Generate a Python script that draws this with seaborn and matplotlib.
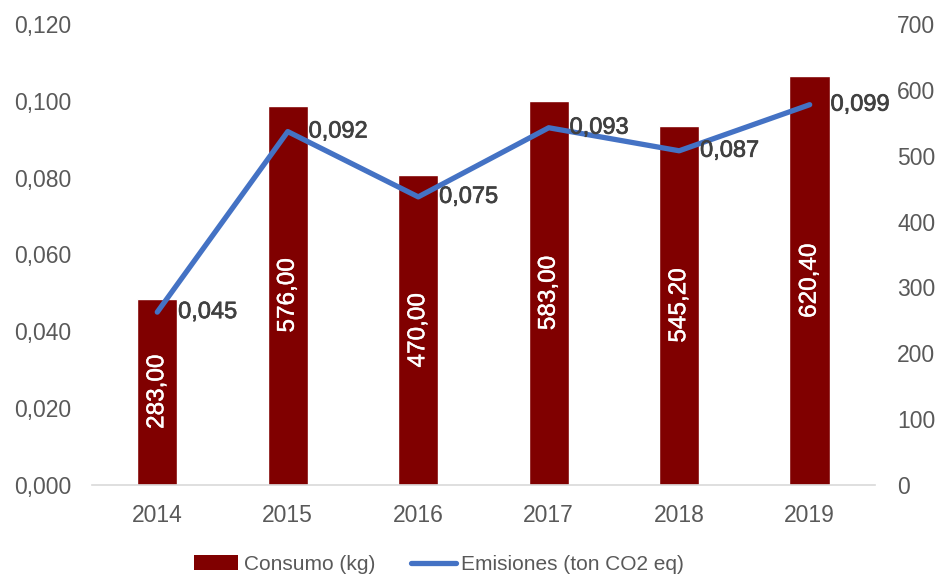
import matplotlib
matplotlib.use("Agg")
import matplotlib.pyplot as plt
import matplotlib.patheffects as pe
import seaborn as sns
import numpy as np
import pandas as pd
from matplotlib.ticker import FuncFormatter, MultipleLocator
from matplotlib.patches import Patch
from matplotlib.lines import Line2D

years = ["2014", "2015", "2016", "2017", "2018", "2019"]
consumo = [283.00, 576.00, 470.00, 583.00, 545.20, 620.40]
emisiones = [0.045, 0.092, 0.075, 0.093, 0.087, 0.099]

BAR_COLOR = "#800000"
LINE_COLOR = "#4472C4"
TICK_COLOR = "#595959"
LABEL_COLOR = "#404040"

sns.set_theme(style="white")
plt.rcParams["font.family"] = ["Liberation Sans", "DejaVu Sans"]

df = pd.DataFrame({"year": years, "consumo": consumo, "emisiones": emisiones})
df["pos"] = np.arange(len(df))

fig = plt.figure(figsize=(9.41, 5.79), dpi=100)
ax = fig.add_axes([0.0978, 0.1624, 0.832, 0.7961])
ax2 = ax.twinx()

# Bars on primary axis (scale shown on right)
sns.barplot(data=df, x="year", y="consumo", color=BAR_COLOR, width=0.31,
            saturation=1, ax=ax, zorder=2)
ax.set_ylim(0, 700)
ax.set_xlim(-0.5, len(years) - 0.5)
ax.yaxis.set_major_locator(MultipleLocator(100))
ax.yaxis.tick_right()
ax.yaxis.set_label_position("right")
ax.set_xlabel("")
ax.set_ylabel("")

cont = ax.containers[0]
blabels = ax.bar_label(cont, labels=[f"{v:.2f}".replace(".", ",") for v in consumo],
                       label_type="center", rotation=90, color="white", fontsize=17.5)
for t in blabels:
    t.set_path_effects([pe.withStroke(linewidth=0.3, foreground="white")])

# Line on twin axis (scale shown on left)
sns.lineplot(data=df, x="pos", y="emisiones", color=LINE_COLOR, linewidth=3.8,
             ax=ax2, solid_capstyle="round")
ax2.set_ylim(0, 0.12)
ax2.yaxis.set_major_locator(MultipleLocator(0.02))
ax2.yaxis.tick_left()
ax2.yaxis.set_label_position("left")
ax2.yaxis.set_major_formatter(FuncFormatter(lambda v, p: f"{v:.3f}".replace(".", ",")))
ax2.set_xlabel("")
ax2.set_ylabel("")
ax2.set_xlim(-0.5, len(years) - 0.5)

for x, y in zip(df["pos"], emisiones):
    t = ax2.annotate(f"{y:.3f}".replace(".", ","), (x, y), xytext=(15, 0),
                     textcoords="offset points", ha="left", va="center",
                     fontsize=17, color=LABEL_COLOR)
    t.set_path_effects([pe.withStroke(linewidth=0.5, foreground=LABEL_COLOR)])

for a in (ax, ax2):
    for s in ("top", "left", "right", "bottom"):
        a.spines[s].set_visible(False)
    a.tick_params(axis="both", length=0, colors=TICK_COLOR, labelsize=16.5)
    a.grid(False)
ax.spines["bottom"].set_visible(True)
ax.spines["bottom"].set_color("#D9D9D9")
ax.spines["bottom"].set_linewidth(1.2)
ax.tick_params(axis="y", pad=16)
ax2.tick_params(axis="y", pad=15)
ax.tick_params(axis="x", pad=14)
ax2.tick_params(axis="x", labelbottom=False)

handles = [Patch(facecolor=BAR_COLOR, edgecolor="none"),
           Line2D([0], [0], color=LINE_COLOR, linewidth=3.8, solid_capstyle="round")]
leg = fig.legend(handles, ["Consumo (kg)", "Emisiones (ton CO2 eq)"],
                 loc="center", bbox_to_anchor=(0.4665, 0.025), ncol=2, frameon=False,
                 fontsize=15, handlelength=2.15, handletextpad=0.25,
                 columnspacing=1.75, handleheight=0.75)
for t in leg.get_texts():
    t.set_color(TICK_COLOR)

fig.savefig("out.png", dpi=100)
